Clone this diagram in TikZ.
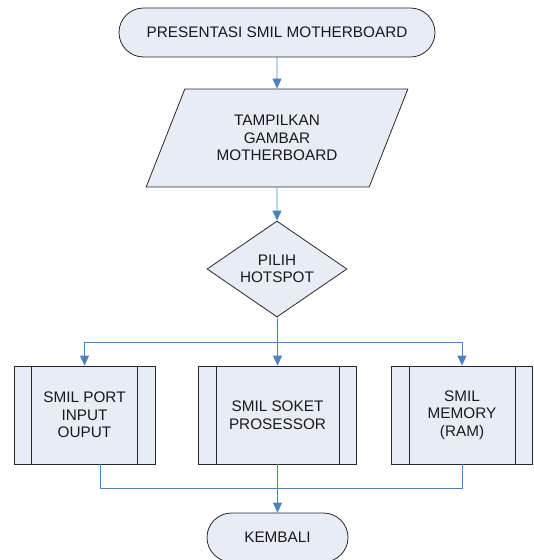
\documentclass[tikz,border=0pt]{standalone}
\usepackage{fontspec}
\setmainfont{Liberation Sans}
\usetikzlibrary{arrows.meta, shapes.geometric, positioning}
\definecolor{boxfill}{RGB}{231,236,247}
\definecolor{linkblue}{RGB}{79,129,189}
\definecolor{edgegray}{RGB}{40,40,40}

\begin{document}
\begin{tikzpicture}[x=1pt, y=-1pt]
                \tikzstyle{base} = [draw=edgegray, fill=boxfill, line width=0.8pt, text=black!90, align=center, font=\fontsize{15.3}{17.5}\selectfont, inner sep=0pt];
                \tikzstyle{terminal} = [base, rectangle, rounded corners=24.5pt, minimum height=49pt];
                \tikzstyle{io} = [base, trapezium, trapezium left angle=61, trapezium right angle=119, trapezium stretches=true, minimum width=262pt, minimum height=98pt];
                \tikzstyle{decision} = [base, diamond, aspect=1.46, minimum width=140pt, minimum height=96pt];
                \tikzstyle{subproc} = [base, rectangle, minimum height=98pt, path picture={
                    \draw[edgegray, line width=0.8pt] ([xshift=17.5pt]path picture bounding box.north west) -- ([xshift=17.5pt]path picture bounding box.south west);
                    \draw[edgegray, line width=0.8pt] ([xshift=-17.5pt]path picture bounding box.north east) -- ([xshift=-17.5pt]path picture bounding box.south east);}];
                \tikzstyle{link} = [draw=linkblue, line width=0.8pt];
                \tikzstyle{flow} = [link, -{Triangle[length=10pt,width=9pt]}];

                \useasboundingbox (0,0) rectangle (534,560);

                \node[terminal, minimum width=316pt](Start) at (277,32.5) {PRESENTASI SMIL MOTHERBOARD};
                \node[io](Show) at (277,138) {TAMPILKAN\\GAMBAR\\MOTHERBOARD};
                \node[decision](Pick) at (277,269) {PILIH\\HOTSPOT};

                \node[subproc, minimum width=141pt](Port) at (84.5,415) {SMIL PORT\\INPUT\\OUPUT};
                \node[subproc, minimum width=158pt](Soket) at (277.5,415) {SMIL SOKET\\PROSESSOR};
                \node[subproc, minimum width=141pt](Ram) at (462,415) {SMIL\\MEMORY\\(RAM)};

                \node[terminal, minimum width=141pt](Back) at (277.5,537.5) {KEMBALI};

                \coordinate (Split) at (277.5,342);
                \coordinate (Join) at (277.5,488);

                \draw[flow] (Start) -- (Show);
                \draw[flow] (Show) -- (Pick);
                \draw[link] (Pick) -- (Split);
                \draw[flow] (Split) -| (Port);
                \draw[flow] (Split) -- (Soket);
                \draw[flow] (Split) -| (Ram);

                \draw[link] ([xshift=16pt]Port.south) |- (Join);
                \draw[link] (Ram.south) |- (Join);
                \draw[flow] (Soket) -- (Back);
            \end{tikzpicture}
\end{document}
